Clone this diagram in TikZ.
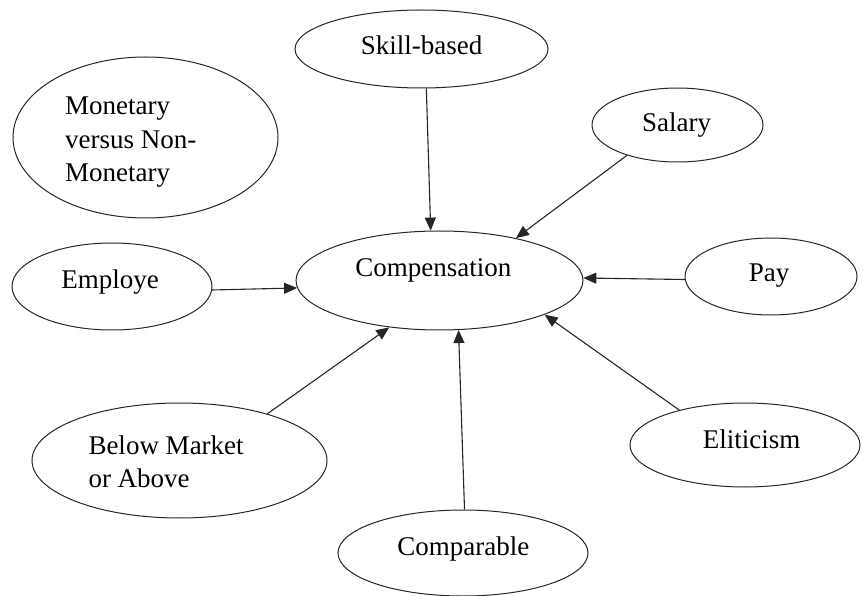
\documentclass[tikz,border=0pt]{standalone}
\usepackage{fontspec}
\setmainfont{Liberation Serif}
\usetikzlibrary{arrows.meta,shapes.geometric}
\tikzset{
  oval/.style={draw=black!85, ellipse, line width=1pt, inner sep=0pt},
  txt/.style={font=\fontsize{27}{33}\selectfont, inner sep=0pt, anchor=base},
  txtl/.style={font=\fontsize{27}{33}\selectfont, inner sep=0pt, anchor=base west},
  conn/.style={draw=black!85, line width=1.1pt, -{Triangle[length=13pt,width=11pt]}}
}
\begin{document}
\begin{tikzpicture}[x=1pt,y=-1pt]
\useasboundingbox (0,0) rectangle (863,596);
% ellipses
\node[oval, minimum width=253pt, minimum height=78pt] (skill) at (421.5,49) {};
\node[oval, minimum width=265pt, minimum height=161pt] (mon) at (145.5,137.5) {};
\node[oval, minimum width=171pt, minimum height=74pt] (sal) at (677.5,125) {};
\node[oval, minimum width=287pt, minimum height=99pt] (comp) at (439.5,280.5) {};
\node[oval, minimum width=172pt, minimum height=77pt] (pay) at (771,276.5) {};
\node[oval, minimum width=200pt, minimum height=87pt] (emp) at (112,286.5) {};
\node[oval, minimum width=295pt, minimum height=115pt] (below) at (179.5,460.5) {};
\node[oval, minimum width=250pt, minimum height=86pt] (cmpb) at (463,553) {};
\node[oval, minimum width=230pt, minimum height=84pt] (elit) at (745,445) {};
% texts
\node[txt] (tskill) at (421.5,55) {Skill-based};
\node[txtl] (tmon1) at (65,115) {Monetary};
\node[txtl] (tmon2) at (65,148.3) {versus Non-};
\node[txtl] (tmon3) at (65,181.7) {Monetary};
\node[txt] (tsal) at (676.7,131.7) {Salary};
\node[txt] (tcomp) at (433.3,276.7) {Compensation};
\node[txt] (tpay) at (769,281.7) {Pay};
\node[txt] (temp) at (110,288.3) {Employe};
\node[txtl] (tbel1) at (88.3,454) {Below Market};
\node[txtl] (tbel2) at (88.3,487.3) {or Above};
\node[txt] (tcmpb) at (463.3,555) {Comparable};
\node[txt] (telit) at (751.7,448.3) {Eliticism};
% connectors
\draw[conn] (skill.-83.9) -- (comp.100.9);
\draw[conn] (sal.-149.5) -- (comp.29.4);
\draw[conn] (pay.-178.8) -- (comp.1);
\draw[conn] (emp.-2) -- (comp.183);
\draw[conn] (below.28) -- (comp.-137.7);
\draw[conn] (cmpb.88.7) -- (comp.-69.9);
\draw[conn] (elit.152) -- (comp.-18.9);
\end{tikzpicture}
\end{document}
